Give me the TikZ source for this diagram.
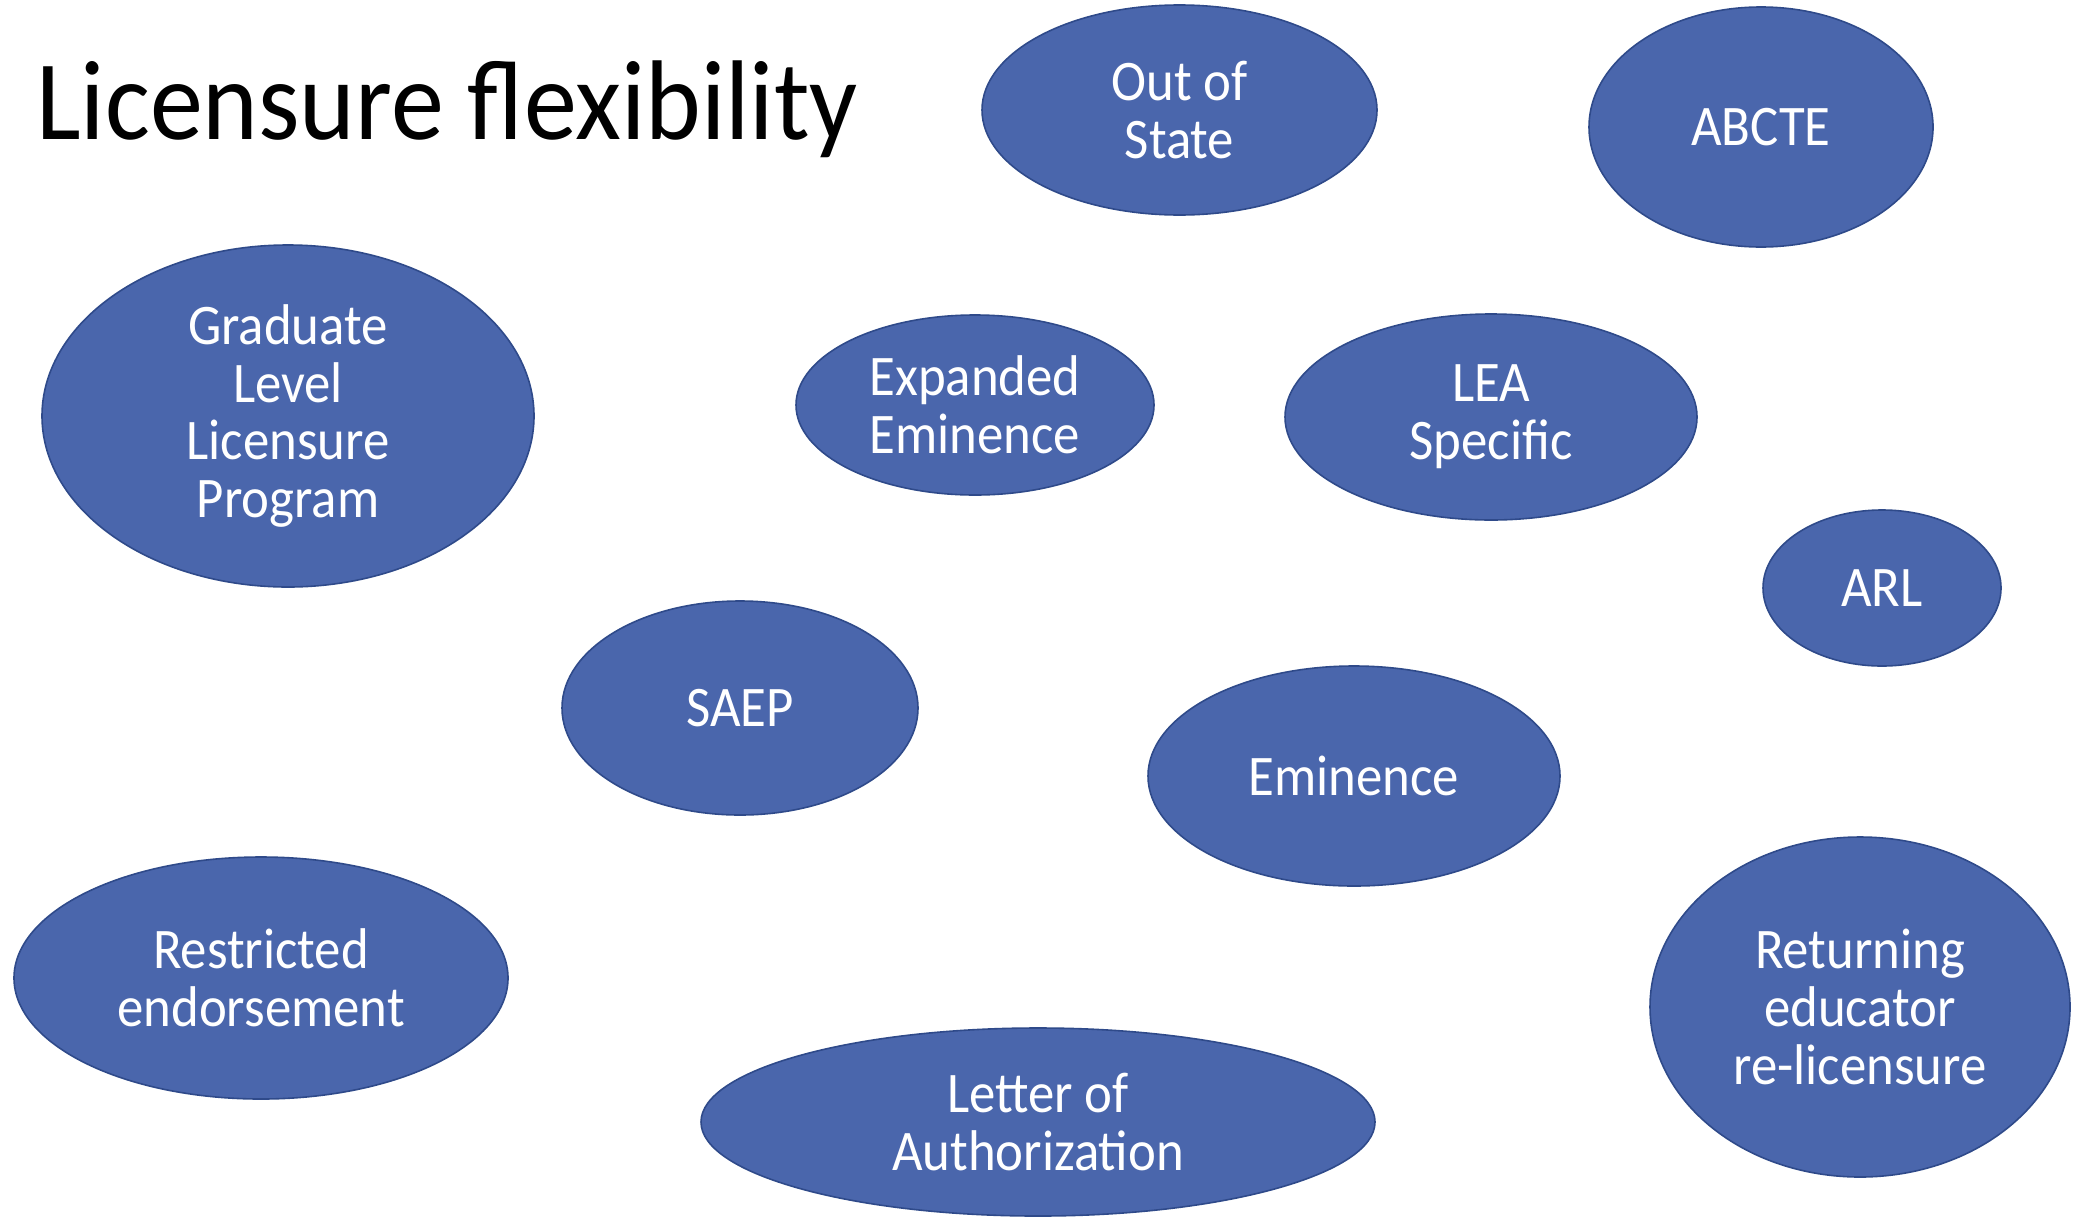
\documentclass[tikz,border=0pt]{standalone}
\usepackage{fontspec}
\setmainfont{Carlito}
\newfontfamily\titlefont[FakeStretch=0.935]{Carlito}
\newfontfamily\ovalfont[FakeStretch=0.92]{Carlito}
\usetikzlibrary{shapes.geometric}
\definecolor{ovalfill}{HTML}{4A66AC}
\definecolor{ovaledge}{HTML}{2F4A8A}
\tikzset{
  oval/.style 2 args={ellipse, minimum width=#1pt, minimum height=#2pt, inner sep=0pt,
    fill=ovalfill, draw=ovaledge, line width=0.8pt, text=white, align=center,
    font=\ovalfont\fontsize{28.7pt}{28.8pt}\selectfont},
}
\begin{document}
\begin{tikzpicture}[x=0.5pt,y=-0.5pt]
\useasboundingbox (0,0) rectangle (2080,1216);
\fill[white] (0,0) rectangle (2080,1216);
\node[anchor=base west, inner sep=0pt, font=\titlefont\fontsize{56.7pt}{60pt}\selectfont] (title) at (36,139) {Licensure flexibility};
\node[oval={197.5}{105}] (oos) at (1179.5,110) {Out of\\State};
\node[oval={172}{120}] (abcte) at (1761,127) {ABCTE};
\node[oval={246}{171}] (grad) at (288,416) {Graduate\\Level\\Licensure\\Program};
\node[oval={179}{90}] (exp) at (975,405) {Expanded\\Eminence};
\node[oval={206}{103}] (lea) at (1491,417) {LEA\\Specific};
\node[oval={119}{78}] (arl) at (1882,588) {ARL};
\node[oval={178}{107}] (saep) at (740,708) {SAEP};
\node[oval={206}{110}] (emin) at (1354,776) {Eminence};
\node[oval={247}{121}] (restr) at (261,978) {Restricted\\endorsement};
\node[oval={337}{94}] (letter) at (1038,1122) {Letter of\\Authorization};
\node[oval={210}{170}] (ret) at (1860,1007) {Returning\\educator\\re-licensure};
\end{tikzpicture}
\end{document}
